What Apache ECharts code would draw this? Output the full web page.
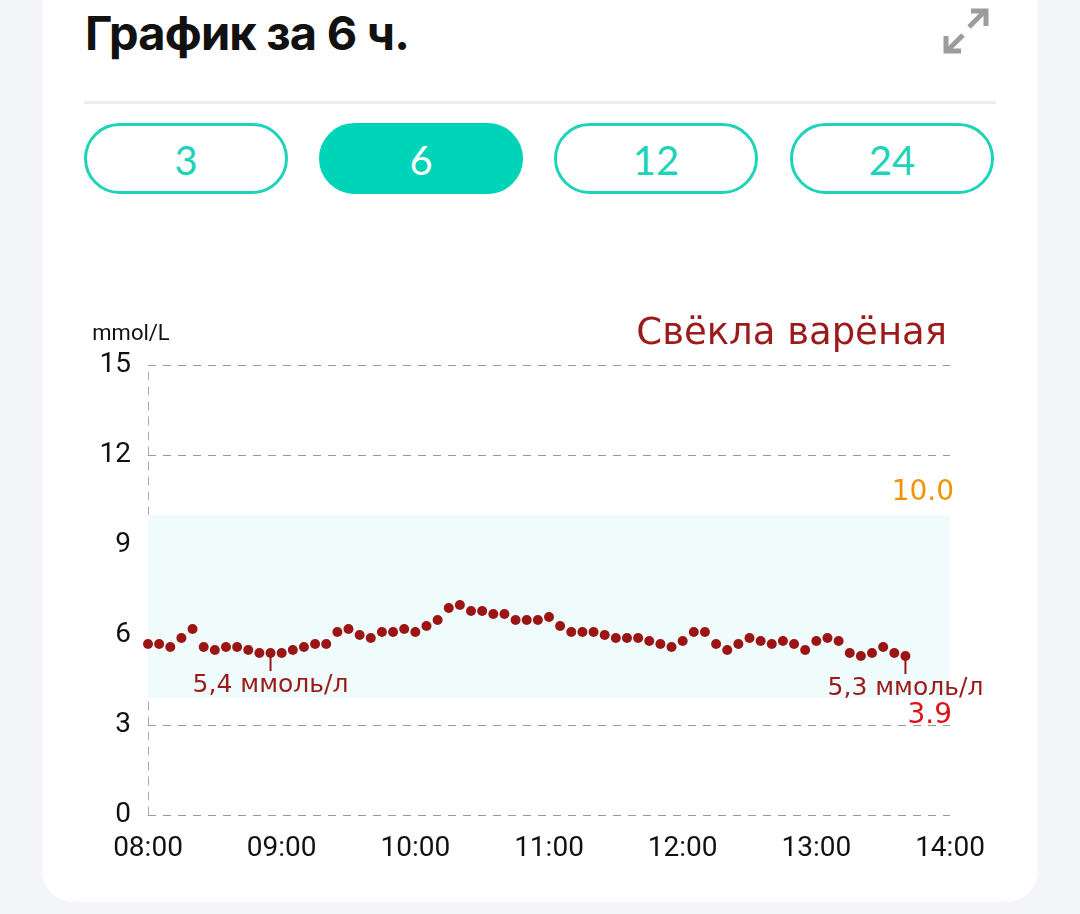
<!DOCTYPE html>
<html>
<head>
<meta charset="utf-8">
<script src="https://cdn.jsdelivr.net/npm/echarts@6/dist/echarts.min.js"></script>
<style>
  html, body { margin:0; padding:0; width:1080px; height:914px; background:#f3f5f9; overflow:hidden; }
  #card { position:absolute; left:42px; top:-40px; width:996px; height:942px; background:#fff; border-radius:32px; }
  #title { position:absolute; left:85px; top:4px; font-family:Inter, "Noto Sans", sans-serif; font-weight:700; font-size:47px; color:#111; letter-spacing:-0.8px; }
  #sep { position:absolute; left:84px; top:101px; width:912px; height:3px; background:#ececec; }
  .btn { position:absolute; top:123px; width:204px; height:71px; box-sizing:border-box; border:3px solid #1dd3b9; border-radius:36px;
         font-family:Lato, "Noto Sans", sans-serif; font-weight:400; font-size:40px; color:#1dd3b9; text-align:center; line-height:68px; }
  .btn.on { background:#00d4b8; border-color:#00d4b8; color:#fff; }
  #icon { position:absolute; left:940px; top:6px; width:52px; height:50px; }
  #chart { position:absolute; left:0; top:0; width:1080px; height:914px; }
</style>
</head>
<body>
<div id="card"></div>
<div id="title">График за 6 ч.</div>
<svg id="icon" viewBox="0 0 52 50">
  <g stroke="#9c9c9c" stroke-width="5" fill="none" stroke-linecap="butt">
    <path d="M29 21 L45 5"/><path d="M31 5 H46 V20"/>
    <path d="M23 29 L7 45"/><path d="M6 30 V45 H21"/>
  </g>
</svg>
<div id="sep"></div>
<div class="btn" style="left:84px">3</div>
<div class="btn on" style="left:319px">6</div>
<div class="btn" style="left:554px">12</div>
<div class="btn" style="left:790px">24</div>
<div id="chart"></div>
<script>
// ---- data ----
const productName = 'Свёкла варёная';
const unitName = 'mmol/L';
const startTime = '08:00';
const stepMinutes = 5;
const glucose = [
  5.7, 5.7, 5.6, 5.9, 6.2, 5.6, 5.5, 5.6, 5.6, 5.5, 5.4, 5.4, 5.4, 5.5, 5.6, 5.7, 5.7, 6.1, 6.2, 6.0,
  5.9, 6.1, 6.1, 6.2, 6.1, 6.3, 6.5, 6.9, 7.0, 6.8, 6.8, 6.7, 6.7, 6.5, 6.5, 6.5, 6.6, 6.3, 6.1, 6.1,
  6.1, 6.0, 5.9, 5.9, 5.9, 5.8, 5.7, 5.6, 5.8, 6.1, 6.1, 5.7, 5.5, 5.7, 5.9, 5.8, 5.7, 5.8, 5.7, 5.5,
  5.8, 5.9, 5.8, 5.4, 5.3, 5.4, 5.6, 5.4, 5.3
];
const targetLow = 3.9;
const targetHigh = 10.0;
const markedIndices = [11, 68];
const markedLabels = ['5,4 ммоль/л', '5,3 ммоль/л'];
const axisStart = '08:00';
const axisEnd = '14:00';
const yTicks = [0, 3, 6, 9, 12, 15];

// ---- build ----
function toTs(hhmm, addMin) {
  const [h, m] = hhmm.split(':').map(Number);
  return new Date(2024, 0, 1, h, m + (addMin || 0)).getTime();
}
const points = glucose.map((v, i) => [toTs(startTime, i * stepMinutes), v]);
const pad = n => String(n).padStart(2, '0');

const chart = echarts.init(document.getElementById('chart'));
const labelFont = '"DejaVu Sans", sans-serif';
chart.setOption({
  animation: false,
  grid: { left: 148, right: 130, top: 365, bottom: 99, containLabel: false },
  title: {
    text: productName, right: 128, top: 311,
    textStyle: { fontFamily: labelFont, fontWeight: 'normal', fontSize: 37, color: '#9b1a1a' }
  },
  xAxis: {
    type: 'time', min: toTs(axisStart), max: toTs(axisEnd), interval: 3600000,
    axisLine: { show: false }, axisTick: { show: false }, splitLine: { show: false },
    axisLabel: {
      margin: 20, fontSize: 28, color: '#111', fontFamily: 'Roboto, sans-serif',
      formatter: v => { const d = new Date(v); return pad(d.getHours()) + ':' + pad(d.getMinutes()); },
      showMinLabel: true, showMaxLabel: true
    }
  },
  yAxis: {
    type: 'value', min: yTicks[0], max: yTicks[yTicks.length - 1], interval: 3,
    name: unitName, nameLocation: 'end', nameGap: 20,
    nameTextStyle: { fontSize: 22, color: '#111', fontFamily: 'Roboto, sans-serif', align: 'center', padding: [0, 34, 0, 0] },
    axisLine: { show: true, lineStyle: { color: '#aaa', type: [8, 7], width: 1 } },
    axisTick: { show: false },
    axisLabel: { margin: 17, fontSize: 28, color: '#111', fontFamily: 'Roboto, sans-serif' },
    splitLine: { show: true, lineStyle: { color: '#999', type: [8, 7], width: 1 } }
  },
  series: [{
    type: 'scatter',
    data: points,
    symbol: 'circle',
    symbolSize: 10,
    itemStyle: { color: '#9b1515', opacity: 1 },
    markArea: {
      silent: true,
      itemStyle: { color: '#f0fbfc' },
      data: [[{ yAxis: targetLow }, { yAxis: targetHigh }]]
    },
    markLine: {
      silent: true, symbol: 'none',
      lineStyle: { color: 'rgba(0,0,0,0)', width: 0, type: 'solid' },
      data: [
        { yAxis: targetHigh, label: { show: true, formatter: targetHigh.toFixed(1), position: 'insideEndTop', color: '#f39200', fontSize: 28, fontFamily: labelFont, distance: [-4, 8] } },
        { yAxis: targetLow, label: { show: true, formatter: targetLow.toFixed(1), position: 'insideEndBottom', color: '#e0101a', fontSize: 28, fontFamily: labelFont, distance: [-2, 4] } }
      ]
    },
    markPoint: {
      silent: true,
      symbol: 'rect',
      symbolSize: [2, 18],
      symbolOffset: [0, 9],
      itemStyle: { color: '#9b1515' },
      label: { show: true, position: 'bottom', distance: 2, fontSize: 25, color: '#9b1a1a', fontFamily: labelFont },
      data: markedIndices.map((idx, k) => ({
        coord: points[idx],
        label: { formatter: markedLabels[k] }
      }))
    }
  }]
});
</script>
</body>
</html>
